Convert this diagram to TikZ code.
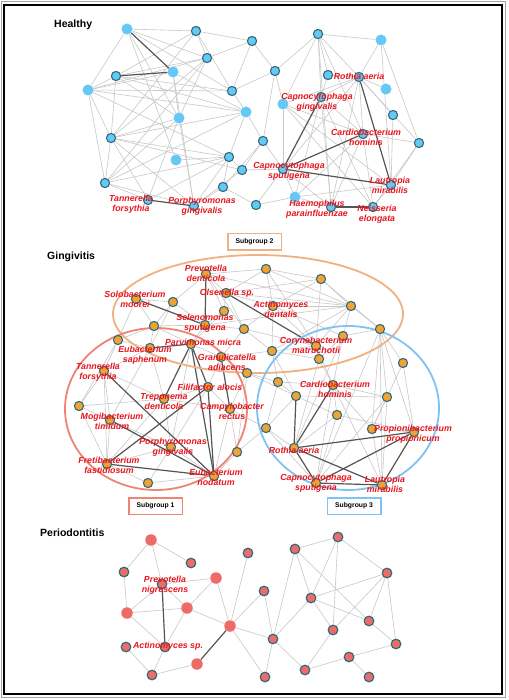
\documentclass[tikz,border=0pt]{standalone}
\usepackage{fontspec}
\setmainfont{Liberation Sans}
\pgfdeclarelayer{bg}
\pgfsetlayers{bg,main}
\begin{document}
\begin{tikzpicture}[x=1pt,y=-1pt]
\definecolor{hblue}{HTML}{66C8F4}
\definecolor{tealb}{HTML}{2F6B78}
\definecolor{gor}{HTML}{F2A233}
\definecolor{psal}{HTML}{EE6C68}
\definecolor{edgeg}{HTML}{C8C8C8}
\definecolor{edged}{HTML}{555555}
\definecolor{lblred}{HTML}{E8161E}
\definecolor{ellor}{HTML}{F2B080}
\definecolor{ellred}{HTML}{EE8474}
\definecolor{ellblue}{HTML}{80C2F2}
\tikzset{
 ge/.style={draw=edgeg, line width=0.6pt},
 gd/.style={draw=edged, line width=1.2pt},
 hl/.style={circle, fill=hblue, inner sep=0pt, minimum size=11pt},
 hb/.style={circle, fill=hblue, draw=tealb, line width=1.1pt, inner sep=0pt, minimum size=9.2pt},
 gb/.style={circle, fill=gor, draw=tealb, line width=1.1pt, inner sep=0pt, minimum size=9.2pt},
 pl/.style={circle, fill=psal, inner sep=0pt, minimum size=11.5pt},
 pb/.style={circle, fill=psal, draw=tealb, line width=1.2pt, inner sep=0pt, minimum size=9.6pt},
 lbl/.style={text=lblred, align=center, inner sep=0pt, font=\bfseries\itshape\fontsize{8.8}{10}\selectfont},
 ttl/.style={font=\bfseries\fontsize{10.5}{12}\selectfont, anchor=west, inner sep=0pt},
 sgbox/.style={line width=1.5pt, minimum width=53.5pt, minimum height=16.5pt, inner sep=0pt, font=\bfseries\fontsize{6.8}{8}\selectfont, fill=white},
}
\useasboundingbox (0,0) rectangle (508,700);
\begin{pgfonlayer}{bg}
\fill[white] (0,0) rectangle (508,700);
\draw[black!35, line width=0.8pt] (1.5,1.5) rectangle (505,697);
\draw[black, line width=1.8pt] (4,5) rectangle (502,694);
\end{pgfonlayer}

% titles
\node[ttl] (tH) at (54,25) {Healthy};
\node[ttl] (tG) at (47,257) {Gingivitis};
\node[ttl] (tP) at (40,533) {Periodontitis};

% ---------------- Healthy nodes
\node[hl] (hA) at (127,29) {};
\node[hb] (hB) at (196,31) {};
\node[hb] (hC) at (252,41) {};
\node[hb] (hD) at (207,58) {};
\node[hl] (hE) at (173,72) {};
\node[hb] (hF) at (116,76) {};
\node[hl] (hG) at (88,90) {};
\node[hb] (hH) at (232,91) {};
\node[hl] (hI) at (246,112) {};
\node[hl] (hJ) at (179,118) {};
\node[hb] (hK) at (111,138) {};
\node[hl] (hL) at (176,160) {};
\node[hb] (hM) at (229,157) {};
\node[hb] (hN) at (242,170) {};
\node[hb] (hO) at (105,183) {};
\node[hb] (hP) at (223,187) {};
\node[hb] (hQ) at (148,200) {};
\node[hb] (hR) at (194,206) {};
\node[hb] (hS) at (256,205) {};
\node[hb] (hT) at (318,34) {};
\node[hl] (hU) at (381,40) {};
\node[hb] (hV) at (275,71) {};
\node[hb] (hW) at (328,75) {};
\node[hb] (hX) at (359,77) {};
\node[hl] (hY) at (386,89) {};
\node[hl] (hZ) at (283,104) {};
\node[hb] (hAA) at (321,97) {};
\node[hb] (hAB) at (393,115) {};
\node[hb] (hAC) at (263,141) {};
\node[hb] (hAD) at (363,134) {};
\node[hb] (hAE) at (419,143) {};
\node[hb] (hAF) at (283,169) {};
\node[hb] (hAG) at (391,185) {};
\node[hl] (hAH) at (295,197) {};
\node[hb] (hAJ) at (331,207) {};
\node[hb] (hAK) at (373,207) {};

% ---------------- Gingivitis nodes
\node[gb] (g1) at (206,274) {};
\node[gb] (g2) at (136,299) {};
\node[gb] (g3) at (173,302) {};
\node[gb] (g4) at (226,293) {};
\node[gb] (g5) at (224,311) {};
\node[gb] (g6) at (205,325) {};
\node[gb] (g7) at (154,326) {};
\node[gb] (g8) at (244,329) {};
\node[gb] (g9) at (118,340) {};
\node[gb] (g10) at (191,344) {};
\node[gb] (g11) at (150,348) {};
\node[gb] (g12) at (221,357) {};
\node[gb] (g13) at (247,373) {};
\node[gb] (g14) at (104,371) {};
\node[gb] (g15) at (266,269) {};
\node[gb] (g16) at (321,279) {};
\node[gb] (g17) at (351,306) {};
\node[gb] (g18) at (273,306) {};
\node[gb] (g19) at (380,329) {};
\node[gb] (g20) at (343,336) {};
\node[gb] (g21) at (316,346) {};
\node[gb] (g22) at (272,351) {};
\node[gb] (g23) at (319,359) {};
\node[gb] (g24) at (403,363) {};
\node[gb] (g25) at (278,382) {};
\node[gb] (g26) at (79,406) {};
\node[gb] (g27) at (208,387) {};
\node[gb] (g28) at (164,399) {};
\node[gb] (g29) at (230,409) {};
\node[gb] (g30) at (110,420) {};
\node[gb] (g31) at (171,447) {};
\node[gb] (g32) at (237,452) {};
\node[gb] (g33) at (107,464) {};
\node[gb] (g34) at (214,476) {};
\node[gb] (g35) at (148,483) {};
\node[gb] (g36) at (333,385) {};
\node[gb] (g37) at (296,396) {};
\node[gb] (g38) at (387,397) {};
\node[gb] (g39) at (337,415) {};
\node[gb] (g40) at (266,428) {};
\node[gb] (g41) at (372,429) {};
\node[gb] (g42) at (414,432) {};
\node[gb] (g43) at (294,448) {};
\node[gb] (g44) at (316,483) {};
\node[gb] (g45) at (382,485) {};

% ---------------- Periodontitis nodes
\node[pl] (p1) at (151,540) {};
\node[pb] (p2) at (191,563) {};
\node[pb] (p3) at (124,572) {};
\node[pb] (p4) at (162,584) {};
\node[pl] (p5) at (216,578) {};
\node[pb] (p6) at (248,553) {};
\node[pl] (p7) at (127,613) {};
\node[pl] (p8) at (187,608) {};
\node[pl] (p9) at (230,626) {};
\node[pb] (p10) at (126,647) {};
\node[pb] (p11) at (165,647) {};
\node[pl] (p12) at (197,664) {};
\node[pb] (p13) at (152,675) {};
\node[pb] (p14) at (295,549) {};
\node[pb] (p15) at (338,537) {};
\node[pb] (p16) at (387,573) {};
\node[pb] (p17) at (264,591) {};
\node[pb] (p18) at (311,598) {};
\node[pb] (p19) at (369,621) {};
\node[pb] (p20) at (333,630) {};
\node[pb] (p21) at (273,639) {};
\node[pb] (p22) at (396,644) {};
\node[pb] (p23) at (349,657) {};
\node[pb] (p24) at (265,677) {};
\node[pb] (p25) at (305,670) {};
\node[pb] (p26) at (369,677) {};

\begin{pgfonlayer}{bg}
\foreach \a/\b in {hA/hB, hA/hG, hA/hJ, hA/hH, hA/hL, hA/hD,
 hB/hC, hB/hF, hB/hH, hB/hK, hB/hD, hC/hV, hC/hH, hC/hD,
 hD/hF, hD/hG, hD/hK, hD/hO, hD/hJ, hE/hJ, hE/hR, hE/hG, hE/hI,
 hF/hG, hF/hH, hF/hI, hF/hK, hF/hJ, hG/hI, hG/hK, hG/hO, hG/hH, hG/hM,
 hH/hI, hH/hV, hI/hK, hI/hM, hI/hO, hI/hAC, hJ/hR, hJ/hO, hJ/hQ, hJ/hK,
 hK/hM, hK/hN, hK/hO, hK/hQ, hK/hR, hL/hM, hM/hO, hM/hQ, hM/hN, hM/hP, hM/hR,
 hO/hQ, hO/hR, hR/hP, hR/hN, hN/hAF, hN/hAC, hP/hAC, hS/hAF, hS/hAH, hS/hP,
 hT/hU, hT/hV, hT/hX, hT/hW, hT/hAA, hT/hZ, hT/hAD, hT/hAJ, hU/hX, hU/hAG, hU/hAE,
 hV/hZ, hV/hAC, hW/hX, hW/hAA, hX/hAA, hX/hZ, hX/hAF, hX/hAD, hX/hAE, hX/hAB, hX/hY, hX/hAJ,
 hAA/hAD, hAA/hAJ, hAA/hAH, hZ/hAF, hZ/hAG, hZ/hAD, hAD/hAE, hAD/hAJ, hAD/hAK, hAD/hAH,
 hAF/hAH, hAF/hAJ, hAF/hAC, hAG/hAK, hAG/hAE, hAG/hAH, hAH/hAJ, hAE/hAK, hAB/hAG, hAA/hAK, hZ/hAK,
 g15/g16, g15/g17, g15/g1, g15/g18, g15/g21, g15/g4, g16/g17, g16/g18, g16/g21, g16/g4, g16/g19,
 g17/g18, g17/g4, g17/g1, g17/g6, g17/g22, g17/g20, g17/g21, g1/g4, g1/g3, g1/g5, g1/g8,
 g2/g3, g2/g7, g2/g9, g3/g7, g3/g6, g3/g11, g4/g5, g4/g18, g4/g8, g5/g6, g5/g10, g6/g8, g6/g7,
 g6/g10, g7/g9, g7/g11, g7/g10, g8/g18, g8/g21, g8/g12, g18/g22, g18/g20, g18/g21, g21/g22,
 g21/g23, g22/g23, g20/g23, g20/g19, g9/g11, g9/g14, g9/g26, g11/g14, g11/g30, g14/g26, g14/g30,
 g14/g28, g14/g33, g26/g30, g26/g33, g26/g28, g30/g33, g30/g31, g28/g31, g28/g33, g28/g29,
 g28/g27, g27/g29, g27/g31, g27/g12, g29/g32, g29/g34, g31/g33, g31/g35, g31/g34, g33/g35,
 g35/g34, g12/g13, g13/g29, g13/g32, g11/g28, g10/g12, g10/g31, g32/g34, g29/g40, g13/g25,
 g12/g22, g8/g22, g32/g40, g13/g37, g22/g25, g23/g36, g25/g37, g25/g40, g25/g36, g36/g38,
 g36/g39, g36/g41, g36/g44, g36/g45, g37/g38, g37/g39, g37/g40, g38/g41, g38/g44, g38/g45,
 g39/g43, g39/g44, g39/g42, g40/g43, g40/g44, g41/g42, g41/g45, g19/g38, g19/g42, g19/g41,
 g19/g44, g19/g45, g20/g36, g20/g43, g24/g42, g24/g19, g23/g43, g21/g36, g22/g37, g19/g17, g24/g41,
 p1/p2, p1/p3, p1/p4, p3/p7, p4/p5, p4/p7, p4/p8, p5/p8, p5/p9, p7/p8, p7/p11, p8/p11, p8/p9,
 p10/p13, p11/p13, p13/p12, p9/p6, p9/p17, p9/p21, p9/p24, p14/p15, p15/p16, p15/p20, p15/p18,
 p14/p18, p14/p19, p14/p21, p16/p18, p16/p20, p16/p19, p16/p22, p18/p19, p18/p20, p18/p21,
 p19/p22, p17/p21, p21/p24, p21/p25, p20/p25, p25/p23, p23/p22, p23/p26}
 \draw[ge] (\a) -- (\b);
\foreach \a/\b in {hA/hE, hE/hF, hQ/hR, hAA/hAF, hX/hAG, hAD/hAF, hAF/hAG, hAJ/hAK,
 g2/g6, g1/g6, g4/g21, g10/g11, g10/g28, g10/g27, g10/g34, g27/g34, g12/g29, g14/g34, g27/g33,
 g30/g34, g33/g34, g36/g43, g37/g43, g43/g42, g43/g44, g43/g45, g44/g45, g44/g42, g42/g45,
 p4/p11, p12/p9}
 \draw[gd] (\a) -- (\b);
% subgroup outlines
\draw[ellor, line width=1.8pt] (258,314) ellipse [x radius=145, y radius=59];
\draw[ellred, line width=1.8pt] (156,409) ellipse [x radius=91, y radius=81];
\draw[ellblue, line width=1.8pt] (348,408) ellipse [x radius=91, y radius=82];
\end{pgfonlayer}

% subgroup boxes
\node[sgbox, draw=ellor] (sg2) at (254.5,242) {Subgroup 2};
\node[sgbox, draw=ellred] (sg1) at (155.5,506) {Subgroup 1};
\node[sgbox, draw=ellblue] (sg3) at (354,506) {Subgroup 3};

% labels Healthy
\node[lbl] (lh1) at (131,204) {Tannerella\\forsythia};
\node[lbl] (lh2) at (202,206) {Porphyromonas\\gingivalis};
\node[lbl] (lh3) at (359,76) {Rothia aeria};
\node[lbl] (lh4) at (317,102) {Capnocytophaga\\gingivalis};
\node[lbl] (lh5) at (366,137) {Cardiobacterium\\hominis};
\node[lbl] (lh6) at (289,171) {Capnocytophaga\\sputigena};
\node[lbl] (lh7) at (390,185) {Lautropia\\mirabilis};
\node[lbl] (lh8) at (317,209) {Haemophilus\\parainfluenzae};
\node[lbl] (lh9) at (377,214) {Neisseria\\elongata};

% labels Gingivitis
\node[lbl] (lg1) at (206,273) {Prevotella\\denticola};
\node[lbl] (lg2) at (135,299) {Solobacterium\\moorei};
\node[lbl] (lg3) at (227,293) {Olsenella sp.};
\node[lbl] (lg4) at (205,323) {Selenomonas\\sputigena};
\node[lbl] (lg5) at (203,342) {Parvimonas micra};
\node[lbl] (lg6) at (145,355) {Eubacterium\\saphenum};
\node[lbl] (lg7) at (227,362) {Granulicatella\\adiacens};
\node[lbl] (lg8) at (98,372) {Tannerella\\forsythia};
\node[lbl] (lg9) at (281,309) {Actinomyces\\dentalis};
\node[lbl] (lg10) at (316,345) {Corynebacterium\\matruchotii};
\node[lbl] (lg11) at (210,387) {Filifactor alocis};
\node[lbl] (lg12) at (164,402) {Treponema\\denticola};
\node[lbl] (lg13) at (232,411) {Campylobacter\\rectus};
\node[lbl] (lg14) at (112,421) {Mogibacterium\\timidum};
\node[lbl] (lg15) at (173,447) {Porphyromonas\\gingivalis};
\node[lbl] (lg16) at (109,465) {Fretibacterium\\fastidiosum};
\node[lbl] (lg17) at (216,477) {Eubacterium\\nodatum};
\node[lbl] (lg18) at (335,389) {Cardiobacterium\\hominis};
\node[lbl] (lg19) at (413,434) {Propionibacterium\\propionicum};
\node[lbl] (lg20) at (294,450) {Rothia aeria};
\node[lbl] (lg21) at (316,483) {Capnocytophaga\\sputigena};
\node[lbl] (lg22) at (385,484) {Lautropia\\mirabilis};

% labels Periodontitis
\node[lbl] (lp1) at (165,585) {Prevotella\\nigrescens};
\node[lbl] (lp2) at (168,646) {Actinomyces sp.};
\end{tikzpicture}
\end{document}
